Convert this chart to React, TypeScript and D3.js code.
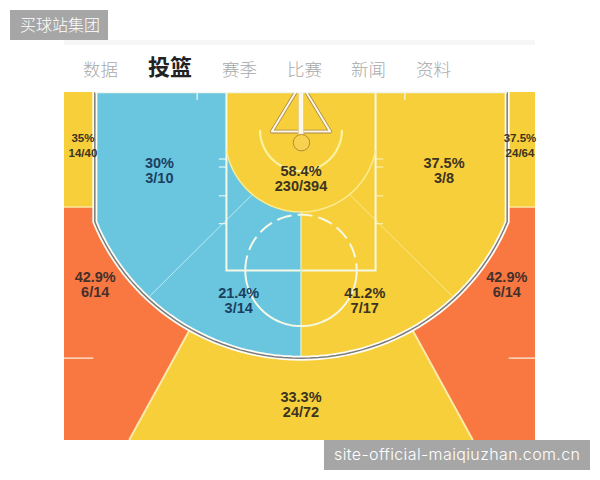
import React from "react";
import * as d3 from "d3";

const tabs = ["数据", "投篮", "赛季", "比赛", "新闻", "资料"];
const tabCenters = [100.5, 170, 239.5, 304.5, 368.5, 433.5];

type Zone = { pct: string; made: string; x: number; y: number; tint: string; small?: boolean };
const BLUEINK = "#1c3f60", YELLOWINK = "#3c3320", ORANGEINK = "#46302a";
// x and y in feet from the hoop
const zoneLabels: Zone[] = [
  { pct: "35%", made: "14/40", x: -23.1, y: 0.05, tint: YELLOWINK, small: true },
  { pct: "37.5%", made: "24/64", x: 23.2, y: 0.05, tint: YELLOWINK, small: true },
  { pct: "30%", made: "3/10", x: -15, y: 2.75, tint: BLUEINK },
  { pct: "58.4%", made: "230/394", x: 0, y: 3.55, tint: YELLOWINK },
  { pct: "37.5%", made: "3/8", x: 15.15, y: 2.75, tint: YELLOWINK },
  { pct: "42.9%", made: "6/14", x: -21.8, y: 14.8, tint: ORANGEINK },
  { pct: "42.9%", made: "6/14", x: 21.8, y: 14.8, tint: ORANGEINK },
  { pct: "21.4%", made: "3/14", x: -6.6, y: 16.5, tint: BLUEINK },
  { pct: "41.2%", made: "7/17", x: 6.75, y: 16.5, tint: YELLOWINK },
  { pct: "33.3%", made: "24/72", x: 0, y: 27.5, tint: YELLOWINK },
];

const laneTicks = [1.8, 2.65, 5.7, 8.65];
const TOP = -5.3, BOTTOM = 31.57, HALF = 26.5;
const COURTW = 21.84, KINK = 8.47, ARCX = 23.5, ARCY = 22.9;
const JUNCTION = 11.76, BOTTOMX = 18.2, CORNER = 6.89;
const LANE = 7.9, FT = 13.6, CIRCLE = 5.9, SIDE_TICK = 22;
const KEYR = 8.05, KEYCY = -0.64, RESTR = 4.34, RESTCY = -1.27;

const sx = d3.scaleLinear().domain([-1, 1]).range([301 - 9.44, 301 + 9.44]);
const sy = d3.scaleLinear().domain([0, 1]).range([142, 151.44]);
const px = (p: [number, number]): [number, number] => [sx(p[0]), sy(p[1])];
const line = d3.line<[number, number]>().x((d) => sx(d[0])).y((d) => sy(d[1]));

function arc(cx: number, cy: number, rx: number, ry: number, a0: number, a1: number) {
  return d3.range(0, 61).map((i): [number, number] => {
    const t = a0 + ((a1 - a0) * i) / 60;
    return [cx + rx * Math.cos(t), cy + ry * Math.sin(t)];
  });
}

const tKink = Math.acos(-COURTW / ARCX);
const tJunc = Math.acos(-JUNCTION / ARCX);
const tMid = Math.PI / 2;
const threeArc = arc(0, 0, ARCX, ARCY, Math.PI - tKink, tKink);
const threeLine: [number, number][] = [[COURTW, TOP], ...threeArc, [-COURTW, TOP]];
const mirror = (pts: [number, number][]) => pts.map((p): [number, number] => [-p[0], p[1]]);

const orangeLeft: [number, number][] = [
  [-HALF, CORNER], [-COURTW, CORNER], [-COURTW, KINK],
  ...arc(0, 0, ARCX, ARCY, tKink, tJunc),
  [-BOTTOMX, BOTTOM], [-HALF, BOTTOM],
];
const keyT = Math.acos(-LANE / KEYR);
const blue: [number, number][] = [
  [-COURTW, TOP], [-COURTW, KINK],
  ...arc(0, 0, ARCX, ARCY, tKink, tMid),
  ...arc(0, KEYCY, KEYR, KEYR, tMid, keyT),
  [-LANE, TOP],
];
const keyArc = arc(0, KEYCY, KEYR, KEYR, Math.PI - keyT, keyT);
const restricted = arc(0, RESTCY, RESTR, RESTR, Math.PI, 0);
const circleLower = arc(0, FT, CIRCLE, CIRCLE, Math.PI, 0);
const circleUpper = arc(0, FT, CIRCLE, CIRCLE, Math.PI, 2 * Math.PI);
const lanePath: [number, number][] = [[-LANE, TOP], [-LANE, FT], [LANE, FT], [LANE, TOP]];
const diagL: [number, number][] = [[-5.2, 5.6], [-16, 16.3]];
const split: [number, number][] = [[-JUNCTION, 19.83], [-BOTTOMX, BOTTOM]];
const boardY = -1.1;
const triangle: [number, number][] = [[-0.55, -5.3], [-3.1, boardY], [3.1, boardY], [0.55, -5.3]];

export default function App() {
  const ink = 'Liberation Sans, Arial, sans-serif';
  const cjk = '"Noto Sans CJK SC", sans-serif';
  const YELLOW = "#f6cf3a", BLUE = "#69c6de", ORANGE = "#f97842";
  return (
    <svg width={600} height={480} style={{ position: "absolute", left: 0, top: 0 }}>
      <defs>
        <clipPath id="court"><rect x={64} y={92} width={471} height={348} /></clipPath>
      </defs>
      <rect width={600} height={480} fill="#fff" />
      <rect x={64} y={40} width={471} height={5} fill="#f6f6f6" />
      {tabs.map((t, i) => (
        <text key={t} x={tabCenters[i]} y={i === 1 ? 75 : 76} textAnchor="middle"
          fontFamily={cjk} fontSize={i === 1 ? 22 : 17.5} fontWeight={i === 1 ? 700 : 300}
          fill={i === 1 ? "#222" : "#a9a9a9"}>{t}</text>
      ))}
      <g clipPath="url(#court)">
        <rect x={64} y={92} width={471} height={348} fill={YELLOW} />
        <path d={line(orangeLeft)!} fill={ORANGE} />
        <path d={line(mirror(orangeLeft))!} fill={ORANGE} />
        <path d={line(blue)!} fill={BLUE} />
        {/* corner separators */}
        {[-1, 1].map((s) => (
          <line key={s} x1={sx(s * HALF)} x2={sx(s * COURTW)} y1={sy(CORNER)} y2={sy(CORNER)} stroke="#fbe8a0" strokeWidth={1.5} />
        ))}
        {/* side ticks */}
        {[-1, 1].map((s) => (
          <line key={s} x1={sx(s * HALF)} x2={sx(s * SIDE_TICK)} y1={sy(22.9)} y2={sy(22.9)} stroke="#fdeede" strokeWidth={1.2} />
        ))}
        <path d={line(split)!} stroke="#fbeaa8" strokeWidth={2} fill="none" />
        <path d={line(mirror(split))!} stroke="#fbeaa8" strokeWidth={2} fill="none" />
        {/* diagonals */}
        <path d={line(diagL)!} stroke="#bfeaf2" strokeWidth={1} fill="none" />
        <path d={line(mirror(diagL))!} stroke="#fbe88a" strokeWidth={1} fill="none" />
        {/* top ticks */}
        {[-1, 1].map((s) => (
          <line key={s} x1={sx(s * 11)} x2={sx(s * 11)} y1={92} y2={100} stroke="#f3f7e8" strokeWidth={1.2} />
        ))}
        {/* lane ticks */}
        {laneTicks.map((t) => [-1, 1].map((s) => (
          <line key={`${t}${s}`} x1={sx(s * LANE)} x2={sx(s * (LANE + 0.8))} y1={sy(t)} y2={sy(t)} stroke={s < 0 ? "#e6f6f4" : "#fdf0a8"} strokeWidth={1.2} />
        )))}
        <path d={line(lanePath)!} fill="none" stroke="#f6f8e6" strokeWidth={2} />
        <line x1={sx(0)} x2={sx(0)} y1={sy(7.4)} y2={sy(22.9)} stroke="#cdeed2" strokeWidth={1.5} />
        <path d={line(keyArc)!} fill="none" stroke="#fbeb92" strokeWidth={1.5} />
        <path d={line(restricted)!} fill="none" stroke="#fdf2a0" strokeWidth={2.2} />
        <path d={line(circleLower)!} fill="none" stroke="#f6f8e6" strokeWidth={2} />
        <path d={line(circleUpper)!} fill="none" stroke="#f6f8e6" strokeWidth={2} strokeDasharray="15 6" />
        {/* backboard */}
        <path d={line(triangle)!} fill="none" stroke="#a98545" strokeWidth={3.6} strokeLinejoin="round" />
        <path d={line(triangle)!} fill="none" stroke="#fdf8e8" strokeWidth={2} strokeLinejoin="round" />
        <rect x={sx(-0.26)} y={92} width={sx(0.26) - sx(-0.26)} height={sy(-0.6) - 92} fill="#fdf8ea" stroke="#e5c98a" strokeWidth={0.6} />
        <circle cx={sx(0.05)} cy={sy(0.07)} r={8.2} fill="#f8d24e" stroke="#b5883a" strokeWidth={1} />
        {/* three-point line */}
        <path d={line(threeLine)!} fill="none" stroke="#fffdf6" strokeWidth={5} />
        <path d={line(threeLine)!} fill="none" stroke="#7b7b7b" strokeWidth={1.5} />
        <line x1={sx(-COURTW)} x2={sx(COURTW)} y1={92.5} y2={92.5} stroke="#eef6ee" strokeWidth={1.5} />
      </g>
      {zoneLabels.map((z, i) => {
        const [x, y] = px([z.x, z.y]);
        const fs = z.small ? 11.5 : 14.5;
        const gap = 15;
        return (
          <text key={i} textAnchor="middle" fontFamily={ink} fontWeight={700} fontSize={fs} fill={z.tint}>
            <tspan x={x} y={y}>{z.pct}</tspan>
            <tspan x={x} y={y + gap}>{z.made}</tspan>
          </text>
        );
      })}
      <rect x={10} y={10} width={98} height={30} fill="#a6a6a6" />
      <text x={20} y={31} fontFamily={cjk} fontSize={16} fontWeight={300} fill="#fff">买球站集团</text>
      <rect x={324} y={440} width={266} height={30} fill="#a6a6a6" />
      <text x={334} y={460} fontFamily="Inter, sans-serif" fontSize={16} fontWeight={300} fill="#fff" textLength={246} lengthAdjust="spacing">site-official-maiqiuzhan.com.cn</text>
    </svg>
  );
}
